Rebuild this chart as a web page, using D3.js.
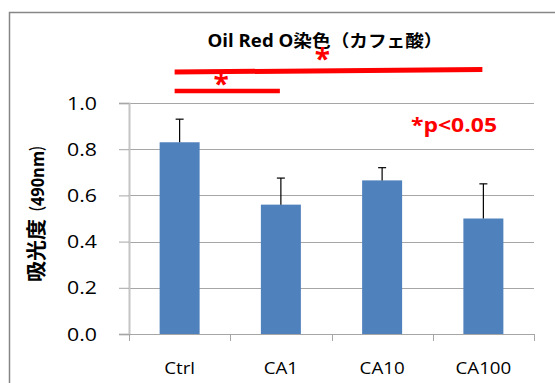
<!DOCTYPE html>
<html>
<head>
<meta charset="utf-8">
<script src="https://cdn.jsdelivr.net/npm/d3@7"></script>
<style>
  html, body { margin: 0; padding: 0; background: #fff; }
  svg { display: block; }
  text { font-family: "Open Sans", "Noto Sans CJK JP", sans-serif; }
</style>
</head>
<body>
<svg id="chart" width="555" height="383"></svg>
<script>
// Chart data
const categories = ["Ctrl", "CA1", "CA10", "CA100"];
const means = [0.83, 0.56, 0.665, 0.50];
const errors = [0.10, 0.115, 0.055, 0.15];
const yTicks = [0.0, 0.2, 0.4, 0.6, 0.8, 1.0];
const titleText = "Oil Red O染色（カフェ酸）";
const yLabelParts = ["吸光度", "（", "490nm", "）"];
const noteText = "*p<0.05";
// Significance brackets: [from category, to category, line level, star level] on the value scale
const sigPairs = [["Ctrl", "CA100", 1.145, 1.21], ["Ctrl", "CA1", 1.052, 1.10]];

const svg = d3.select("#chart");
const W = 555, H = 383;
const plot = { left: 129, right: 534, top: 103, bottom: 334 };

const x = d3.scaleBand().domain(categories).range([plot.left, plot.right]).paddingInner(0.605).paddingOuter(0.3025);
const y = d3.scaleLinear().domain([0, 1]).range([plot.bottom, plot.top]);

// widen text horizontally by a factor, or to a target width
function stretchBy(sel, k) {
  sel.each(function () {
    const w = this.getComputedTextLength();
    this.setAttribute("textLength", w * k);
    this.setAttribute("lengthAdjust", "spacingAndGlyphs");
  });
}
function stretchTo(sel, w) {
  sel.attr("textLength", w).attr("lengthAdjust", "spacingAndGlyphs");
}

// outer frame
svg.append("rect")
  .attr("x", 9.5).attr("y", 12.5)
  .attr("width", W + 10).attr("height", H + 10)
  .attr("fill", "none").attr("stroke", "#868686").attr("stroke-width", 1.5);

// horizontal gridlines
svg.append("g").selectAll("line").data(yTicks.filter(d => d > 0)).join("line")
  .attr("x1", plot.left).attr("x2", plot.right)
  .attr("y1", d => Math.round(y(d)) + 0.5).attr("y2", d => Math.round(y(d)) + 0.5)
  .attr("stroke", "#a6a6a6").attr("stroke-width", 1);

// y axis
const yAxis = svg.append("g")
  .attr("transform", `translate(${plot.left},0)`)
  .call(d3.axisLeft(y).tickValues(yTicks).tickFormat(d3.format(".1f")).tickSize(10).tickPadding(22));
yAxis.select(".domain").attr("stroke", "#c4c4c4").attr("stroke-width", 2);
yAxis.selectAll(".tick line").attr("stroke", "#a6a6a6");
yAxis.selectAll(".tick text")
  .attr("font-size", 19).attr("fill", "#000")
  .attr("font-family", "'Open Sans', sans-serif")
  .call(stretchBy, 1.12);

// x axis: baseline, boundary ticks and category labels
const bounds = categories.map(c => x(c) - x.step() * x.paddingInner() / 2).concat([plot.right]);
svg.append("line")
  .attr("x1", plot.left).attr("x2", plot.right)
  .attr("y1", plot.bottom + 0.5).attr("y2", plot.bottom + 0.5)
  .attr("stroke", "#a6a6a6");
svg.append("g").selectAll("line").data(bounds).join("line")
  .attr("x1", d => Math.round(d) + 0.5).attr("x2", d => Math.round(d) + 0.5)
  .attr("y1", plot.bottom).attr("y2", plot.bottom + 7)
  .attr("stroke", "#a6a6a6");
const xAxis = svg.append("g")
  .attr("transform", `translate(0,${plot.bottom})`)
  .call(d3.axisBottom(x).tickSize(0).tickPadding(29));
xAxis.select(".domain").remove();
xAxis.selectAll(".tick text")
  .attr("font-size", 16).attr("fill", "#000")
  .attr("font-family", "'Open Sans', sans-serif")
  .call(stretchBy, 1.17);

// bars
svg.append("g").selectAll("rect").data(categories).join("rect")
  .attr("x", d => x(d))
  .attr("y", (d, i) => y(means[i]))
  .attr("width", x.bandwidth())
  .attr("height", (d, i) => y(0) - y(means[i]))
  .attr("fill", "#4f81bd");

// error bars (upper side)
const eb = svg.append("g").attr("stroke", "#000").attr("stroke-width", 1.2);
categories.forEach((c, i) => {
  const cx = x(c) + x.bandwidth() / 2;
  eb.append("line").attr("x1", cx).attr("x2", cx)
    .attr("y1", y(means[i])).attr("y2", y(means[i] + errors[i]));
  eb.append("line").attr("x1", cx - 4).attr("x2", cx + 4)
    .attr("y1", y(means[i] + errors[i])).attr("y2", y(means[i] + errors[i]));
});

// title
svg.append("text")
  .attr("x", 325).attr("y", 47)
  .attr("text-anchor", "middle")
  .attr("font-size", 17).attr("font-weight", "bold").attr("fill", "#000")
  .text(titleText)
  .call(stretchTo, 235);

// y axis title, read bottom to top
const yLabel = svg.append("text")
  .attr("transform", `translate(43.5,282) rotate(-90)`)
  .attr("font-weight", "bold").attr("fill", "#000");
const yLabelSpans = [[20.5, 63], [18, 13], [18, 55], [18, 11]];
yLabelParts.forEach((part, i) => {
  yLabel.append("tspan")
    .attr("font-size", yLabelSpans[i][0])
    .text(part)
    .call(stretchTo, yLabelSpans[i][1]);
});

// significance lines and stars
const sig = svg.append("g");
const starSize = 28;
sigPairs.forEach(([a, b, lvl, starLvl], k) => {
  const x1 = x(a) + x.bandwidth() / 2 - 5;
  const x2 = x(b) + x.bandwidth() / 2 - 1;
  const tilt = k === 0 ? 0.011 : 0;
  sig.append("line")
    .attr("x1", x1).attr("x2", x2)
    .attr("y1", y(lvl - tilt)).attr("y2", y(lvl))
    .attr("stroke", "#ff0000").attr("stroke-width", k === 0 ? 5 : 4.5);
  sig.append("text")
    .attr("x", (x1 + x2) / 2 - 6)
    .attr("y", y(starLvl) + 0.52 * starSize)
    .attr("text-anchor", "middle")
    .attr("font-size", starSize).attr("font-weight", "bold").attr("fill", "#ff0000")
    .attr("font-family", "'Open Sans', sans-serif")
    .text("*");
});

// significance note
svg.append("text")
  .attr("x", 411).attr("y", 132)
  .attr("font-size", 20).attr("font-weight", "bold").attr("fill", "#ff0000")
  .attr("font-family", "'Open Sans', sans-serif")
  .text(noteText)
  .call(stretchTo, 86);
</script>
</body>
</html>
